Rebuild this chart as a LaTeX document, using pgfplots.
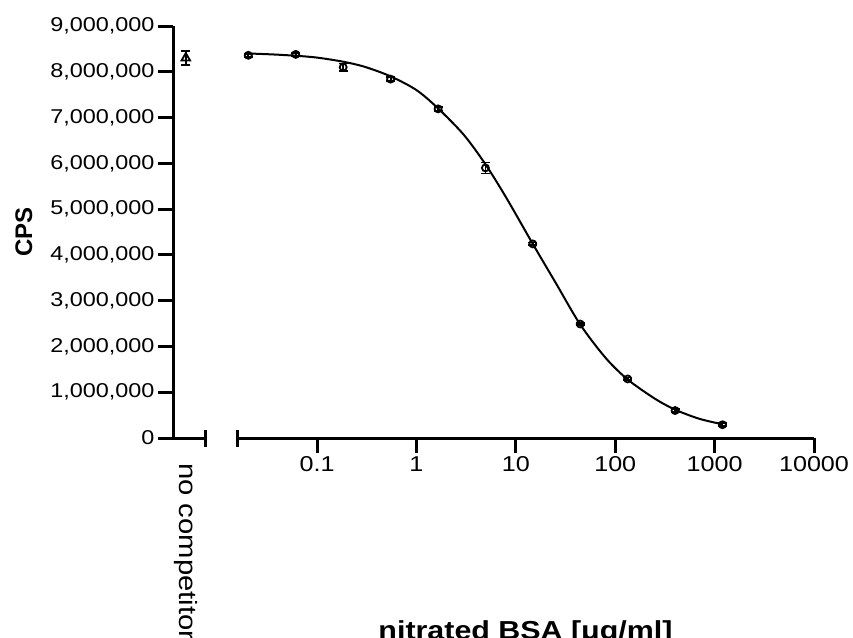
\documentclass[border=0pt]{standalone}
\usepackage{fontspec}
\setmainfont{Liberation Sans}[FakeStretch=1.17]
\newfontfamily\cpsfont{Liberation Sans}
\usepackage{pgfplots}
\pgfplotsset{compat=1.18}

\pgfplotsset{
  refax/.style={
    scale only axis, anchor=south west, height=412pt,
    ymin=0, ymax=9000000, clip=false,
    axis line style={-, line width=3pt},
    tick style={line width=3pt, black},
    tick align=outside, xtick align=outside, ytick align=outside,
    major tick length=15pt,
    yticklabel style={font=\fontsize{20}{24}\selectfont},
    xticklabel style={font=\fontsize{21.5}{24}\selectfont},
    extra x tick labels={},
    extra x tick style={tick align=center, major tick length=17pt},
  },
  dots/.style={only marks, mark size=3.5pt, mark options={line width=1.8pt},
    error bars/y dir=both, error bars/y explicit,
    error bars/error bar style={line width=1.8pt},
    error bars/error mark options={line width=1.8pt, mark size=4.5pt, rotate=90}},
}

\begin{document}
\begin{tikzpicture}
\path[use as bounding box] (0,0) rectangle (853pt,637pt);
\clip (0,0) rectangle (853pt,637pt);

% no competitor
\begin{axis}[axis x line=bottom, axis y line=left, refax,
  at={(173pt,199pt)}, width=32pt, xmin=0, xmax=1,
  xtick=\empty, extra x ticks={1},
  ytick={0,1000000,...,9000000},
  scaled y ticks=false,
  yticklabel style={/pgf/number format/.cd, fixed, precision=0, 1000 sep={,}, assume math mode=true},
  ylabel={\cpsfont\bfseries CPS},
  ylabel style={at={(axis description cs:-4.66,0.5)}, anchor=center, font=\fontsize{24}{28}\selectfont}]
\addplot[dots, mark=triangle, mark size=5pt] coordinates {(0.4,8300000) +- (0,160000)};
\node[rotate=-90, anchor=west, inner sep=0pt, font=\fontsize{25}{30}\selectfont]
  at ([yshift=-25pt]axis cs:0.4,0) {no competitor};
\end{axis}

% competition curve
\begin{axis}[axis x line=bottom, axis y line=none, refax,
  at={(237pt,199pt)}, width=577pt,
  xmode=log, xmin=0.01563, xmax=10000, xminorticks=false,
  xtick={0.1,1,10,100,1000,10000}, xticklabels={0.1,1,10,100,1000,10000},
  extra x ticks={0.01563},
  xlabel={\bfseries nitrated BSA [μg/ml]},
  xlabel style={at={(axis description cs:0.5,-0.488)}, anchor=base, font=\fontsize{26}{30}\selectfont}]
\addplot[smooth, line width=2pt, no marks] coordinates {
  (0.0203,8400000) (0.035,8380000) (0.061,8350000) (0.1,8310000) (0.183,8220000)
  (0.3,8110000) (0.549,7900000) (1.0,7600000) (1.65,7200000) (3.0,6620000)
  (4.94,5980000) (8.0,5250000) (14.8,4240000) (25,3400000) (44.4,2480000)
  (80,1750000) (133,1280000) (250,860000) (400,620000) (700,420000) (1200,300000)
};
\addplot[dots, mark=o] coordinates {
  (0.0203,8360000) +- (0,30000)
  (0.061,8380000) +- (0,30000)
  (0.183,8100000) +- (0,80000)
  (0.549,7840000) +- (0,40000)
  (1.65,7190000) +- (0,40000)
  (4.94,5900000) +- (0,120000)
  (14.8,4240000) +- (0,30000)
  (44.4,2490000) +- (0,30000)
  (133.3,1290000) +- (0,30000)
  (400,600000) +- (0,30000)
  (1200,290000) +- (0,30000)
};
\end{axis}
\end{tikzpicture}
\end{document}
